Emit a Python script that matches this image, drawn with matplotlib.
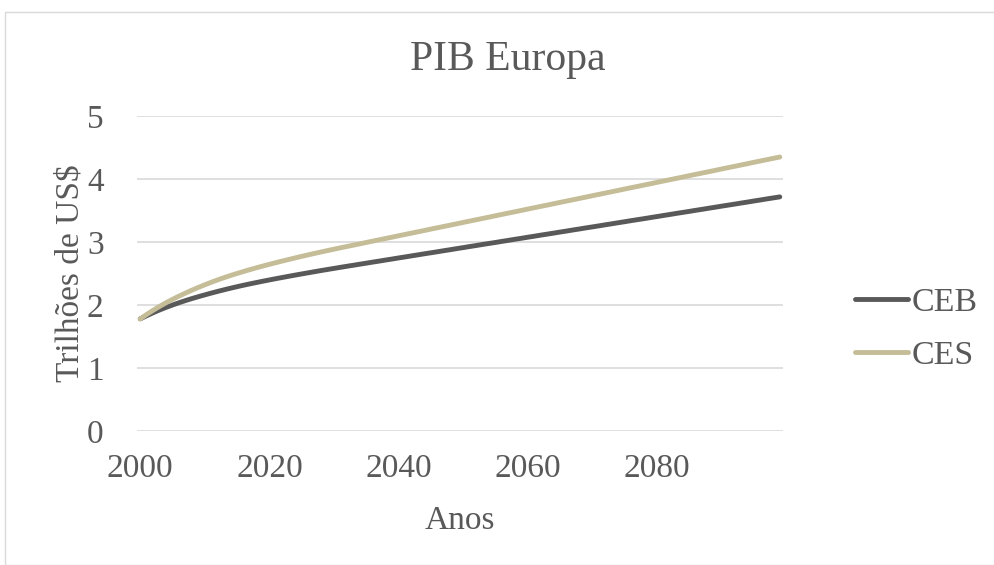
import matplotlib
matplotlib.use("Agg")
import matplotlib.pyplot as plt
from matplotlib.patches import Rectangle

years = list(range(2000, 2100))

ceb = [1.780, 1.830, 1.877, 1.921, 1.962, 2.000, 2.036, 2.070, 2.102, 2.132,
       2.161, 2.189, 2.216, 2.242, 2.267, 2.291, 2.314, 2.336, 2.357, 2.378,
       2.398, 2.418, 2.437, 2.456, 2.475, 2.493, 2.511, 2.529, 2.547, 2.564,
       2.581, 2.598, 2.615, 2.631, 2.648, 2.664, 2.681, 2.697, 2.714, 2.730,
       2.747, 2.763, 2.780, 2.796, 2.813, 2.829, 2.845, 2.862, 2.878, 2.895,
       2.911, 2.928, 2.944, 2.961, 2.977, 2.993, 3.010, 3.026, 3.043, 3.059,
       3.076, 3.092, 3.109, 3.125, 3.141, 3.158, 3.174, 3.191, 3.207, 3.224,
       3.240, 3.256, 3.273, 3.289, 3.306, 3.322, 3.339, 3.355, 3.371, 3.388,
       3.404, 3.421, 3.437, 3.454, 3.470, 3.486, 3.503, 3.519, 3.536, 3.552,
       3.569, 3.585, 3.601, 3.618, 3.634, 3.651, 3.667, 3.684, 3.700, 3.716]

ces = [1.780, 1.850, 1.916, 1.978, 2.036, 2.090, 2.141, 2.189, 2.235, 2.279,
       2.321, 2.361, 2.399, 2.435, 2.469, 2.501, 2.532, 2.562, 2.591, 2.619,
       2.646, 2.672, 2.698, 2.723, 2.748, 2.772, 2.796, 2.819, 2.842, 2.864,
       2.886, 2.908, 2.929, 2.950, 2.971, 2.993, 3.014, 3.035, 3.056, 3.077,
       3.099, 3.120, 3.141, 3.162, 3.183, 3.205, 3.226, 3.247, 3.268, 3.289,
       3.311, 3.332, 3.353, 3.374, 3.395, 3.417, 3.438, 3.459, 3.480, 3.501,
       3.523, 3.544, 3.565, 3.586, 3.607, 3.629, 3.650, 3.671, 3.692, 3.713,
       3.735, 3.756, 3.777, 3.798, 3.819, 3.841, 3.862, 3.883, 3.904, 3.925,
       3.947, 3.968, 3.989, 4.010, 4.031, 4.053, 4.074, 4.095, 4.116, 4.137,
       4.159, 4.180, 4.201, 4.222, 4.243, 4.265, 4.286, 4.307, 4.328, 4.349]

x_ticks = [2000, 2020, 2040, 2060, 2080]
y_ticks = [0, 1, 2, 3, 4, 5]
series_names = ["CEB", "CES"]
title = "PIB Europa"
x_label = "Anos"
y_label = "Trilhões de US$"

plt.rcParams['font.family'] = ['Liberation Serif', 'DejaVu Serif']
txt = "#595959"

W, H = 994, 565
fig = plt.figure(figsize=(W / 100, H / 100), dpi=100)
fig.patch.set_facecolor("white")
fig.patches.append(Rectangle((5 / W, 0), 1.5, 1 - 12 / H, transform=fig.transFigure,
                             fill=False, edgecolor="#D9D9D9", linewidth=1.0))

ax = fig.add_axes([137 / W, 1 - 431 / H, (783 - 137) / W, (431 - 116) / H])
ax.plot(years, ceb, color="#595959", lw=3.5, solid_capstyle="round", label=series_names[0], zorder=3)
ax.plot(years, ces, color="#C4BD97", lw=3.5, solid_capstyle="round", label=series_names[1], zorder=3)

ax.set_xlim(1999.5, 2099.5)
ax.set_ylim(0, 5)
ax.set_xticks(x_ticks)
ax.set_yticks(y_ticks)
ax.grid(axis="y", color="#D9D9D9", lw=1.2, zorder=0)
ax.set_axisbelow(True)
for s in ax.spines.values():
    s.set_visible(False)
ax.tick_params(axis="both", length=0, labelsize=24, labelcolor=txt)
ax.tick_params(axis="y", pad=24)
ax.tick_params(axis="x", pad=16)

ax.set_xlabel(x_label, fontsize=24, color=txt, labelpad=16)
ax.set_ylabel(y_label, fontsize=24, color=txt, labelpad=1)
fig.text(508 / W, 1 - 60 / H, title, fontsize=30, color=txt, ha="center", va="center")

leg = ax.legend(loc="center left", bbox_to_anchor=(855 / W, 1 - 329 / H),
                bbox_transform=fig.transFigure, frameon=False, fontsize=24.5,
                handlelength=1.55, handletextpad=0.1, labelspacing=0.65,
                borderpad=0, borderaxespad=0)
for t in leg.get_texts():
    t.set_color(txt)

fig.savefig("out.png", dpi=100, facecolor="white")
